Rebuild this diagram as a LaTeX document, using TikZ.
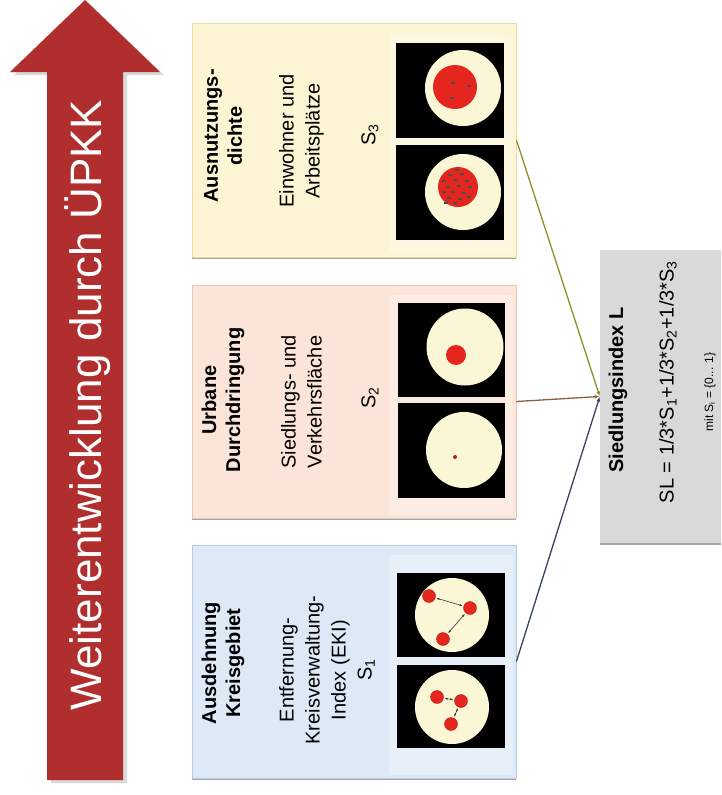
\documentclass[tikz,border=0pt]{standalone}
\usepackage{fontspec}
\setmainfont{Liberation Sans}
\usetikzlibrary{arrows.meta, shadows}
\definecolor{pfeilrot}{HTML}{B02E2E}
\definecolor{blaufeld}{HTML}{DDE9F6}
\definecolor{blaurand}{HTML}{B7CCE3}
\definecolor{rosafeld}{HTML}{FBE5D9}
\definecolor{rosarand}{HTML}{E8C8B6}
\definecolor{gelbfeld}{HTML}{FDF4D3}
\definecolor{gelbrand}{HTML}{EADDA2}
\definecolor{creme}{HTML}{FBF7D6}
\definecolor{ortrot}{HTML}{E5261F}
\definecolor{grunlinie}{HTML}{8E9026}
\definecolor{braunlinie}{HTML}{8E5E40}
\definecolor{blaulinie}{HTML}{36425E}

\begin{document}
\begin{tikzpicture}[x=1pt, y=1pt]
        \tikzset{
          panel/.style={minimum width=324pt, minimum height=234pt, inner sep=0pt,
                 line width=0.8pt,
                 drop shadow={shadow xshift=0pt, shadow yshift=-1.6pt, opacity=.7, fill=gray}},
          titel/.style={rotate=90, align=center, font=\fontsize{20}{24}\selectfont\bfseries},
          merkmal/.style={rotate=90, align=center, font=\fontsize{20}{26}\selectfont},
          ort/.style={circle, fill=ortrot, draw=ortrot!75!black, minimum size=13pt, inner sep=0pt},
          pfad/.style={{Latex[length=3pt]}-{Latex[length=3pt]}, line width=0.6pt, black!80,
                 shorten <=1pt, shorten >=1pt},
          verbindung/.style={-{Latex[length=5pt]}, line width=1.3pt}
        }
        \useasboundingbox (0,0) rectangle (721,-795);

        % Pfeil links
        \fill[gray, opacity=.3] (51,-783) -- (51,-75) -- (14,-75) -- (89,-3) -- (164,-75)
          -- (127,-75) -- (127,-783) -- cycle;
        \fill[pfeilrot] (47,-780) -- (47,-72) -- (10,-72) -- (85,0) -- (160,-72)
          -- (123,-72) -- (123,-780) -- cycle;
        \node[rotate=90, text=white, font=\fontsize{44}{50}\selectfont] (ziel) at (88,-405)
          {Weiterentwicklung durch ÜPKK};

        % drei Teilindikatoren
        \node[panel, fill=gelbfeld, draw=gelbrand] (dichte) at (354,-140) {};
        \node[panel, fill=rosafeld, draw=rosarand, minimum height=233pt] (durchdringung) at (354,-401.5) {};
        \node[panel, fill=blaufeld, draw=blaurand, minimum height=233pt] (ausdehnung) at (354,-661.5) {};
        \foreach \y in {-140, -401.5, -661.5}
          \fill[white, opacity=.3] (389,\y+107) rectangle (513,\y-113);

        \node[titel] (t3) at (223,-136) {Ausnutzungs-\\dichte};
        \node[merkmal] (m3) at (301.5,-141) {Einwohner und\\Arbeitsplätze};
        \node[merkmal] (s3) at (370,-135) {S\textsubscript{3}};

        \node[titel] (t2) at (223,-400) {Urbane\\Durchdringung};
        \node[merkmal] (m2) at (301.5,-402) {Siedlungs- und\\Verkehrsfläche};
        \node[merkmal] (s2) at (370,-398) {S\textsubscript{2}};

        \node[titel] (t1) at (223,-663) {Ausdehnung\\Kreisgebiet};
        \node[merkmal] (m1) at (327,-670)
          {Entfernung-\\Kreisverwaltung-\\Index (EKI)\\S\textsubscript{1}};

        % Kartenbilder: Dichte
        \fill (396,-43) rectangle (504,-138);
        \fill[creme] (463,-88) circle (38);
        \fill[ortrot] (455,-87) circle (22);
        \foreach \x/\y in {453/83, 469/86, 452/98}
          \fill[black!70] (\x-2,-\y-0.7) rectangle (\x+2,-\y+0.7);
        \fill (396,-145) rectangle (504,-240);
        \fill[creme] (463,-192) circle (38);
        \fill[ortrot] (458,-187) circle (20);
        \foreach \x/\y in {450/175, 462/174, 444/181, 455/180, 467/181, 448/187, 459/186,
                           470/187, 444/192, 453/192, 464/193, 449/198, 460/199, 469/197,
                           455/203, 446/203, 457/170}
          \fill[black!70] (\x-2,-\y-0.7) rectangle (\x+2,-\y+0.7);

        % Kartenbilder: Durchdringung
        \fill (398,-303) rectangle (505,-397);
        \fill[creme] (465,-347) circle (38.5);
        \fill[ortrot] (456,-355) circle (10);
        \fill (398,-403) rectangle (505,-498);
        \fill[creme] (464,-450) circle (38);
        \fill[ortrot!80!black] (455,-457) circle (2);

        % Kartenbilder: Ausdehnung
        \fill (397,-573) rectangle (505,-657);
        \fill[creme] (452,-615) circle (37);
        \node[ort] (o1) at (429,-596) {};
        \node[ort] (o2) at (470,-608) {};
        \node[ort] (o3) at (443,-639) {};
        \draw[pfad] (o1) -- (o2);
        \draw[pfad] (o2) -- (o3);
        \fill (397,-665) rectangle (505,-748);
        \fill[creme] (452,-707) circle (37);
        \node[ort] (o4) at (437,-697) {};
        \node[ort] (o5) at (461,-701) {};
        \node[ort] (o6) at (451,-724) {};
        \draw[pfad] (o4) -- (o5);
        \draw[pfad] (o5) -- (o6);

        % Siedlungsindex
        \node[fill=gray!30, minimum width=121pt, minimum height=293pt, inner sep=0pt,
              drop shadow={shadow xshift=0pt, shadow yshift=-1.6pt, opacity=.7, fill=gray}]
          (sl) at (660.5,-396.5) {};
        \node[titel] (slname) at (618,-390) {Siedlungsindex L};
        \node[merkmal] (slformel) at (668,-382)
          {SL = 1/3*S\textsubscript{1}+1/3*S\textsubscript{2}+1/3*S\textsubscript{3}};
        \node[rotate=90, font=\fontsize{12}{14}\selectfont] (slbereich) at (710,-392)
          {mit S\textsubscript{i} = \{0... 1\}};

        \draw[verbindung, grunlinie] (dichte.east) -- (sl.west);
        \draw[verbindung, braunlinie] (durchdringung.east) -- (sl.west);
        \draw[verbindung, blaulinie] (ausdehnung.east) -- (sl.west);
      \end{tikzpicture}
\end{document}
